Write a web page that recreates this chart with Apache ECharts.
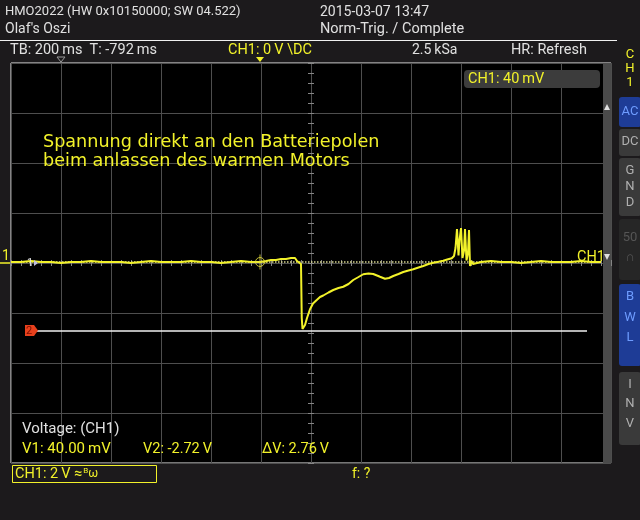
<!DOCTYPE html>
<html><head><meta charset="utf-8">
<script src="https://cdn.jsdelivr.net/npm/echarts@6/dist/echarts.min.js"></script>
<style>html,body{margin:0;padding:0;background:#1c1a1c}#c{width:640px;height:520px}</style>
</head><body><div id="c"></div>
<script>
// ---- data (time in ms relative to screen centre, CH1 in volts) ----
const timeMs = [
 -1200,-1160,-1120,-1080,-1040,-1000,-960,-920,-880,-840,-800,-760,-720,-680,-640,-600,-560,-520,-480,-440,-400,-360,-320,-280,-240,
 -204,-180,-160,-140,-120,-100,-80,-64,-56,-48,-40,-37,-34,-28,-24,-16,-4,8,23,36,49,70,89,110,129,150,169,190,209,230,249,264,276,296,312,329,350,369,390,409,430,449,470,489,510,529,545,563,
 572,578,584,590,594,600,606,612,616,622,628,632,636,642,648,656,
 680,720,760,800,840,880,920,960,1000,1040,1080,1120,1160
];
const ch1Volts = [
 0.04,0.04,0.08,0.04,0.04,0.0,0.04,0.04,0.08,0.04,0.04,0.04,0.0,0.04,0.08,0.04,0.04,0.04,0.08,0.04,0.04,0.0,0.04,0.08,0.04,
 0.04,0.08,0.12,0.12,0.16,0.16,0.2,0.2,0.08,0.0,-0.04,-2.2,-2.64,-2.64,-2.48,-2.2,-1.85,-1.62,-1.48,-1.36,-1.3,-1.18,-1.08,-1.0,-0.95,-0.84,-0.68,-0.56,-0.45,-0.42,-0.44,-0.5,-0.55,-0.63,-0.6,-0.52,-0.44,-0.36,-0.3,-0.25,-0.18,-0.12,-0.04,0.01,0.05,0.09,0.14,0.19,
 0.28,0.6,1.36,0.3,0.9,1.4,0.2,0.5,1.36,0.1,0.4,1.32,-0.12,0.08,-0.04,0.04,
 0.04,0.08,0.04,0.04,0.0,0.04,0.08,0.04,0.04,0.04,0.08,0.04,0.04
];
const cursorV1 = 0.04;          // V1: 40.00 mV
const cursorV2 = -2.72;         // V2: -2.72 V
const cursorV1Span = [-1200, 1164];
const cursorV2Span = [-1096, 1104];
const triggerPoint = [-204, 0.04];
const xRange = [-1200, 1200], xStep = 200;   // 200 ms/div, 12 div
const yRange = [-8, 8], yStep = 2;           // 2 V/div, 8 div

const traceData = timeMs.map((t, i) => [t, ch1Volts[i]]);
const YEL = '#f2f22a', TXT = '#e0e0e0', UI = 'Roboto, "Liberation Sans", sans-serif';

function txt(x, y, s, fill, size, align, extra) {
  return Object.assign({type: 'text', x: x, y: y, z: 100,
    style: {text: s, fill: fill, font: (size || 14) + 'px ' + UI, align: align || 'left', verticalAlign: 'middle'}}, extra || {});
}
function btn(y, h, fill, letters, ys, color) {
  const els = [{type: 'rect', z: 90, shape: {x: 619, y: y, width: 22, height: h, r: 3}, style: {fill: fill}}];
  letters.forEach((l, i) => els.push(txt(630, ys[i], l, color, 13, 'center')));
  return els;
}

const chart = echarts.init(document.getElementById('c'), null, {renderer: 'canvas'});
const tickStyle = {color: '#858585', width: 1};
function mkAxis(range, step, pos, split) {
  return {type: 'value', min: range[0], max: range[1], interval: step, position: pos,
    axisLabel: {show: false},
    axisLine: {show: true, onZero: true, lineStyle: {color: 'rgba(0,0,0,0)'}},
    splitLine: {show: split, lineStyle: {color: '#4e4e4e', width: 1}},
    axisTick: {show: true, inside: false, length: 3, lineStyle: tickStyle},
    minorTick: {show: true, splitNumber: 5, length: 3, lineStyle: tickStyle}};
}
chart.setOption({
  backgroundColor: '#1c1a1c',
  animation: false,
  grid: {left: 11, top: 63, width: 600, height: 400, show: true, backgroundColor: '#000', borderColor: '#ececec', borderWidth: 1},
  xAxis: [mkAxis(xRange, xStep, 'bottom', true), mkAxis(xRange, xStep, 'top', false)],
  yAxis: [mkAxis(yRange, yStep, 'left', true), mkAxis(yRange, yStep, 'right', false)],
  series: [
    {type: 'line', name: 'V1', data: cursorV1Span.map(t => [t, cursorV1]), symbol: 'none', silent: true,
     lineStyle: {color: '#d8d890', width: 1.5, type: 'dotted'}, z: 2},
    {type: 'line', name: 'V2', data: cursorV2Span.map(t => [t, cursorV2]), symbol: 'none', silent: true,
     lineStyle: {color: '#f0f0f0', width: 1.5}, z: 2},
    {type: 'line', name: 'CH1', data: traceData, symbol: 'none', silent: true,
     lineStyle: {color: YEL, width: 2}, z: 3},
    {type: 'scatter', data: [triggerPoint], symbol: 'circle', symbolSize: 9, silent: true,
     itemStyle: {color: 'rgba(0,0,0,0)', borderColor: '#e6e040', borderWidth: 1}, z: 4},
    {type: 'scatter', data: [triggerPoint], symbol: 'path://M0,-10L0,10M-10,0L10,0', symbolSize: 15, silent: true,
     itemStyle: {color: 'rgba(0,0,0,0)', borderColor: '#e6e040', borderWidth: 1}, z: 4}
  ],
  graphic: [
    // header
    txt(5, 12, 'HMO2022 (HW 0x10150000; SW 04.522)', TXT, 13),
    txt(5, 29, "Olaf's Oszi", TXT, 14),
    txt(320, 12, '2015-03-07 13:47', TXT, 14),
    txt(320, 29, 'Norm-Trig. / Complete', TXT, 14.5),
    {type: 'line', z: 100, shape: {x1: 0, y1: 40.5, x2: 617, y2: 40.5}, style: {stroke: '#f0f0f0', lineWidth: 1}},
    txt(10, 50, 'TB: 200\u2009ms  T: -792\u2009ms', TXT, 14.5),
    txt(228, 50, 'CH1: 0\u2009V \\DC', YEL, 14.5),
    txt(412, 50, '2.5\u2009kSa', TXT, 14),
    txt(511, 50, 'HR: Refresh', TXT, 14.5),
    // markers on top edge
    {type: 'polygon', z: 100, shape: {points: [[57, 57], [65, 57], [61, 62]]}, style: {fill: 'none', stroke: '#9a9a9a'}},
    {type: 'polygon', z: 100, shape: {points: [[256, 57], [264, 57], [260, 62]]}, style: {fill: YEL}},
    // right scrollbar inside grid
    {type: 'rect', z: 50, shape: {x: 603, y: 64, width: 8, height: 399}, style: {fill: '#4a4a4a'}},
    {type: 'polygon', z: 101, shape: {points: [[604, 110], [610, 110], [607, 104]]}, style: {fill: '#e0e0e0'}},
    {type: 'polygon', z: 101, shape: {points: [[604, 254], [610, 254], [607, 260]]}, style: {fill: '#e0e0e0'}},
    // info box
    {type: 'rect', z: 99, shape: {x: 464, y: 70, width: 136, height: 18, r: 4}, style: {fill: '#3c3c3c'}},
    txt(468, 79, 'CH1: 40\u2009mV', YEL, 14.5),
    // annotation
    {type: 'text', x: 43, y: 142, z: 100, style: {text: 'Spannung direkt an den Batteriepolen', fill: YEL, font: '17.6px "DejaVu Sans"', verticalAlign: 'middle'}},
    {type: 'text', x: 43, y: 161, z: 100, style: {text: 'beim anlassen des warmen Motors', fill: YEL, font: '17.6px "DejaVu Sans"', verticalAlign: 'middle'}},
    // channel markers
    txt(2, 256, '1', YEL, 14),
    {type: 'line', z: 100, shape: {x1: 0, y1: 263, x2: 10, y2: 263}, style: {stroke: YEL, lineWidth: 1.5}},
    txt(27, 263, '1', '#e0e0e0', 11),
    {type: 'polygon', z: 100, shape: {points: [[34, 260], [34, 266], [38, 263]]}, style: {fill: '#c0c0e0'}},
    txt(577, 257, 'CH1', YEL, 14.5),
    {type: 'polygon', z: 100, shape: {points: [[25, 325], [34, 325], [38, 330.5], [34, 336], [25, 336]]}, style: {fill: '#e8401c'}},
    txt(26, 331, '2', '#7a1000', 11),
    // measurement read-out
    txt(22, 429, 'Voltage: (CH1)', TXT, 15),
    txt(22, 449, 'V1: 40.00\u2009mV', YEL, 15),
    txt(143, 449, 'V2: -2.72\u2009V', YEL, 14.5),
    txt(262, 449, '\u0394V: 2.76\u2009V', YEL, 14.5),
    // bottom status
    {type: 'rect', z: 99, shape: {x: 12.5, y: 465.5, width: 144, height: 17}, style: {fill: 'none', stroke: YEL, lineWidth: 1}},
    {type: 'text', x: 15, y: 474, z: 100, style: {text: '{m|CH1: 2\u2009V \u2248}{s|B}{w|\u03c9}', verticalAlign: 'middle',
      rich: {m: {fill: YEL, font: '14.5px ' + UI}, s: {fill: YEL, font: '8px ' + UI, padding: [0, 0, 6, 1]}, w: {fill: YEL, font: '12px ' + UI}}}},
    txt(352, 474, 'f: ?', YEL, 14),
    // right panel
    txt(630, 55, 'C', YEL, 13, 'center'),
    txt(630, 69, 'H', YEL, 13, 'center'),
    txt(630, 83, '1', YEL, 13, 'center')
  ]
  .concat(btn(97, 30, '#1e3c96', ['AC'], [112], '#6e9cff'))
  .concat(btn(129, 27, '#3a3a3a', ['DC'], [142], '#b0b0b0'))
  .concat(btn(158, 58, '#3a3a3a', ['G', 'N', 'D'], [171, 187, 203], '#b0b0b0'))
  .concat(btn(219, 61, '#262626', ['50', '\u2229'], [238, 258], '#555555'))
  .concat(btn(284, 82, '#1e3c96', ['B', 'W', 'L'], [297, 318, 338], '#6e9cff'))
  .concat(btn(372, 73, '#3a3a3a', ['I', 'N', 'V'], [385, 404, 424], '#b0b0b0'))
});
</script></body></html>
